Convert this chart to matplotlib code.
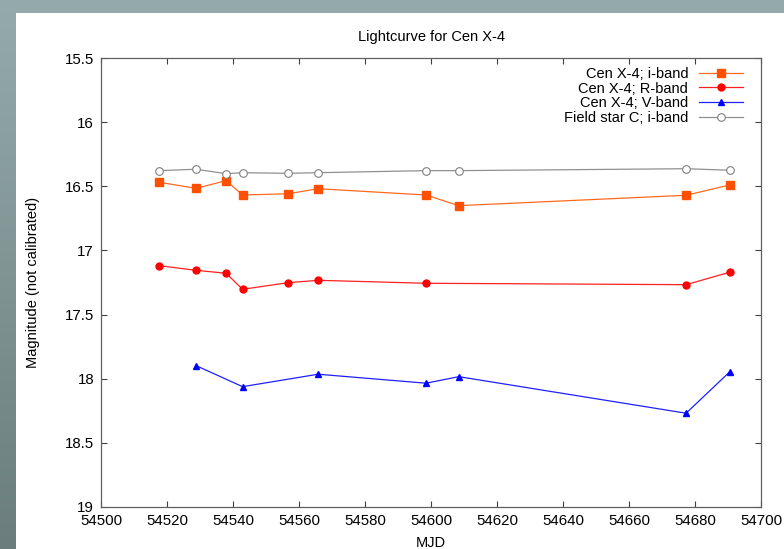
import numpy as np
import matplotlib
matplotlib.use("Agg")
import matplotlib.pyplot as plt
from matplotlib.patches import Rectangle

plt.rcParams['font.family'] = ['Liberation Sans', 'DejaVu Sans']

# MJD of each observation (the V and R bands miss some nights)
mjd_i = [54517.7, 54528.8, 54537.9, 54542.9, 54556.8, 54565.8, 54598.5, 54608.4, 54677.3, 54690.5]
mag_i = [16.469, 16.516, 16.456, 16.568, 16.558, 16.519, 16.568, 16.651, 16.570, 16.490]

mjd_r = [54517.7, 54528.8, 54537.9, 54542.9, 54556.8, 54565.8, 54598.5, 54677.3, 54690.5]
mag_r = [17.119, 17.155, 17.178, 17.303, 17.251, 17.233, 17.256, 17.267, 17.170]

mjd_v = [54528.8, 54542.9, 54565.8, 54598.5, 54608.4, 54677.3, 54690.5]
mag_v = [17.898, 18.062, 17.965, 18.035, 17.984, 18.269, 17.947]

mjd_c = [54517.7, 54528.8, 54537.9, 54542.9, 54556.8, 54565.8, 54598.5, 54608.4, 54677.3, 54690.5]
mag_c = [16.378, 16.367, 16.402, 16.394, 16.399, 16.394, 16.378, 16.378, 16.363, 16.375]

fig = plt.figure(figsize=(7.84, 5.49), dpi=100)

# slide background behind the plot
bg = fig.add_axes([0, 0, 1, 1])
grad = np.linspace(0, 1, 256).reshape(-1, 1)
top = np.array([0x95, 0xAB, 0xAB]) / 255
bot = np.array([0x6B, 0x7D, 0x7D]) / 255
img = top[None, None, :] * (1 - grad[:, :, None]) + bot[None, None, :] * grad[:, :, None]
bg.imshow(img, aspect='auto', extent=[0, 1, 0, 1])
bg.set_axis_off()
bg.add_patch(Rectangle((16 / 784, 0), 1, 1 - 13 / 549, facecolor='white', edgecolor='none'))

ax = fig.add_axes([101 / 784, 1 - 507 / 549, 660 / 784, 449 / 549])

ax.plot(mjd_i, mag_i, color='#FF6A20', lw=0.9, marker='s', ms=5.5,
        mfc='#FF5000', mec='#FF5000', label='Cen X-4; i-band')
ax.plot(mjd_r, mag_r, color='#FF2020', lw=0.9, marker='o', ms=5,
        mfc='#FF0000', mec='#FF0000', label='Cen X-4; R-band')
ax.plot(mjd_v, mag_v, color='#2020FF', lw=0.9, marker='^', ms=5,
        mfc='#0000FF', mec='#0000FF', label='Cen X-4; V-band')
ax.plot(mjd_c, mag_c, color='#909090', lw=0.9, marker='o', ms=5.5,
        mfc='white', mec='#808080', mew=0.8, label='Field star C; i-band')

ax.set_xlim(54500, 54700)
ax.set_ylim(19, 15.5)
ax.set_xticks(np.arange(54500, 54701, 20))
ax.set_yticks(np.arange(15.5, 19.01, 0.5))
ax.set_yticklabels(['15.5', '16', '16.5', '17', '17.5', '18', '18.5', '19'])

ax.tick_params(direction='in', length=4.5, width=0.8, color='#404040',
               top=True, right=True, labelsize=10.8, pad=5)
for s in ax.spines.values():
    s.set_color('#606060')
    s.set_linewidth(0.9)

ax.set_title('Lightcurve for Cen X-4', fontsize=10.5, pad=12)
ax.set_xlabel('MJD', fontsize=10.5, labelpad=6)
ax.set_ylabel('Magnitude (not calibrated)', fontsize=10.5, labelpad=18)

ax.legend(loc='upper right', frameon=False, markerfirst=False, fontsize=10.5,
          handlelength=3.0, handletextpad=0.75, labelspacing=0.05,
          borderaxespad=0.3, bbox_to_anchor=(0.988, 1.003))

fig.savefig('out.png', dpi=100)
